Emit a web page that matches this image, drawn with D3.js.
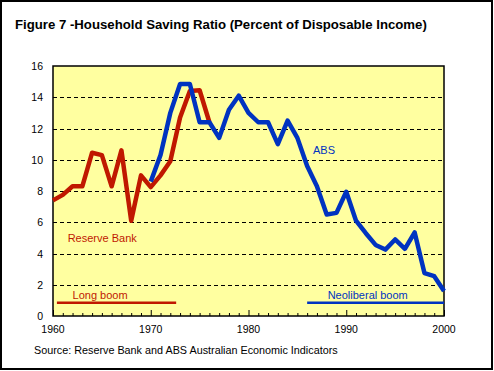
<!DOCTYPE html>
<html>
<head>
<meta charset="utf-8">
<script src="https://cdn.jsdelivr.net/npm/d3@7"></script>
<style>
  body { margin: 0; background: #fff; }
  svg { display: block; font-family: "Liberation Sans", Arial, sans-serif; }
</style>
</head>
<body>
<svg id="chart" width="494" height="371"></svg>
<script>
// data
var rbYears  = [1960,1961,1962,1963,1964,1965,1966,1967,1968,1969,1970,1971,1972,1973,1974,1975,1976];
var rbValues = [7.4,7.75,8.3,8.3,10.45,10.3,8.3,10.6,6.1,9.0,8.25,9.0,9.9,12.7,14.4,14.45,12.4];

var absYears  = [1970,1971,1972,1973,1974,1975,1976,1977,1978,1979,1980,1981,1982,1983,1984,1985,
                 1986,1987,1988,1989,1990,1991,1992,1993,1994,1995,1996,1997,1998,1999,2000];
var absValues = [8.6,10.3,13.0,14.85,14.85,12.4,12.4,11.4,13.2,14.1,13.0,12.4,12.4,11.0,12.5,11.4,
                 9.6,8.3,6.5,6.6,7.95,6.1,5.3,4.55,4.25,4.9,4.3,5.35,2.75,2.55,1.6];

var yTicks = [0,2,4,6,8,10,12,14,16];
var xTicks = [1960,1970,1980,1990,2000];

var periodNames = ["Long boom", "Neoliberal boom"];
var periodFrom  = [1960.4, 1986.0];
var periodTo    = [1972.6, 2000];

var title  = "Figure 7 -Household Saving Ratio (Percent of Disposable Income)";
var source = "Source: Reserve Bank and ABS Australian Economic Indicators";

var red  = "#c01800";
var blue = "#0033c0";

var svg = d3.select("#chart");
var margin = {top: 66, left: 53, right: 50, bottom: 55};
var plotW = 494 - margin.left - margin.right;   // 391
var plotH = 371 - margin.top - margin.bottom;   // 250

var x = d3.scaleLinear().domain([1960, 2000]).range([margin.left, margin.left + plotW]);
var y = d3.scaleLinear().domain([0, 16]).range([margin.top + plotH, margin.top]);

// outer frame
svg.append("rect").attr("x", 1).attr("y", 1).attr("width", 491).attr("height", 368)
   .style("fill", "#fff").style("stroke", "#000").style("stroke-width", 2);

// title
svg.append("text").attr("x", 15).attr("y", 29).text(title)
   .style("font-size", "13.2px").style("font-weight", "bold");

// plot area
svg.append("rect").attr("x", x(1960)).attr("y", y(16))
   .attr("width", x(2000) - x(1960)).attr("height", y(0) - y(16))
   .style("fill", "#ffffa0");

// dashed gridlines
svg.append("g").selectAll("line").data(yTicks.filter(function(d) { return d > 0 && d < 16; }))
   .enter().append("line")
   .attr("x1", x(1960)).attr("x2", x(2000))
   .attr("y1", function(d) { return Math.round(y(d)) + 0.5; })
   .attr("y2", function(d) { return Math.round(y(d)) + 0.5; })
   .style("stroke", "#000").style("stroke-width", 1).style("stroke-dasharray", "4,3");

// x axis with yearly ticks pointing up
var xAxis = d3.axisBottom(x).tickValues(d3.range(1960, 2001)).tickSize(-3).tickFormat("");
var gx = svg.append("g").attr("transform", "translate(0," + y(0) + ")").call(xAxis);
gx.select(".domain").remove();
gx.selectAll(".tick line").attr("y2", function(d) { return d % 10 == 0 ? -6 : -3; })
  .style("stroke", "#000");

svg.append("g").selectAll("text").data(xTicks).enter().append("text")
   .attr("x", function(d) { return x(d); }).attr("y", y(0) + 17)
   .text(function(d) { return d; })
   .style("font-size", "10.5px").style("text-anchor", "middle");

// y axis labels
svg.append("g").selectAll("text").data(yTicks).enter().append("text")
   .attr("x", 43).attr("y", function(d) { return y(d) + 4; })
   .text(function(d) { return d; })
   .style("font-size", "10.5px").style("text-anchor", "end");

// plot frame
svg.append("rect").attr("x", x(1960)).attr("y", y(16))
   .attr("width", x(2000) - x(1960)).attr("height", y(0) - y(16))
   .style("fill", "none").style("stroke", "#000").style("stroke-width", 1.5);

// series
var line = d3.line().x(function(d) { return x(d[0]); }).y(function(d) { return y(d[1]); });

svg.append("path").datum(d3.zip(rbYears, rbValues)).attr("d", line)
   .style("fill", "none").style("stroke", red).style("stroke-width", 4.5)
   .style("stroke-linejoin", "round");

svg.append("path").datum(d3.zip(absYears, absValues)).attr("d", line)
   .style("fill", "none").style("stroke", blue).style("stroke-width", 4.5)
   .style("stroke-linejoin", "round");

// series labels
svg.append("text").attr("x", x(1961.5)).attr("y", y(4.75)).text("Reserve Bank")
   .style("font-size", "11px").style("fill", red);
svg.append("text").attr("x", x(1986.6)).attr("y", y(10.4)).text("ABS")
   .style("font-size", "11px").style("fill", blue);

// boom periods
var periodColor = [red, blue];
var labelFrom = [1962.0, 1988.1];
periodNames.forEach(function(name, i) {
  svg.append("line")
     .attr("x1", x(periodFrom[i])).attr("x2", x(periodTo[i]))
     .attr("y1", y(0.85)).attr("y2", y(0.85))
     .style("stroke", periodColor[i]).style("stroke-width", 2.5);
  svg.append("text").attr("x", x(labelFrom[i])).attr("y", y(1.1)).text(name)
     .style("font-size", "11px").style("fill", periodColor[i]);
});

// source
svg.append("text").attr("x", 34).attr("y", 354).text(source)
   .style("font-size", "10.8px");
</script>
</body>
</html>
